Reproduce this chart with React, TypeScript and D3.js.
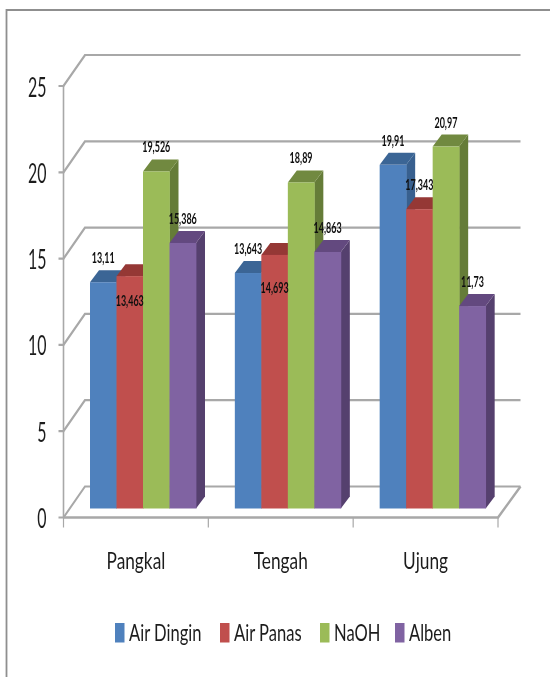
import React from "react";
import * as d3 from "d3";

const categories = ["Pangkal", "Tengah", "Ujung"];
const seriesNames = ["Air Dingin", "Air Panas", "NaOH", "Alben"];
const airDingin = [13.11, 13.643, 19.91];
const airPanas = [13.463, 14.693, 17.343];
const naoh = [19.526, 18.89, 20.97];
const alben = [15.386, 14.863, 11.73];
const yTicks = [0, 5, 10, 15, 20, 25];

const allSeries = [airDingin, airPanas, naoh, alben];
const frontColors = ["#4f81bd", "#c0504d", "#9bbb59", "#8064a2"];
const topColors = ["#3b6595", "#953735", "#71893f", "#63497f"];
const sideColors = ["#37608f", "#8a3331", "#657c37", "#553f6e"];

const WIDTH = 550;
const HEIGHT = 677;
const GRID = "#a8a8a8";
const FONT = "Lato, Carlito, 'Open Sans', sans-serif";
// 3D projection
const wallDx = 21.5;
const wallDy = 31;
const barDx = 9;
const barDy = 12;

const y = d3.scaleLinear().domain([0, 25]).range([517.5, 86]);
const x0 = d3.scaleBand<string>().domain(categories).range([63.5, 498]);
const x1 = d3
  .scaleBand<number>()
  .domain([0, 1, 2, 3])
  .range([26.5, 26.5 + 106]);
const barBase = 508.5;
const barH = (v: number) => y(0) - y(v);

// Excel labels moved by hand: the two lower red labels sit inside their bars
const labelOffset = (s: number, c: number) =>
  s === 1 && c === 0 ? 30 : s === 1 && c === 1 ? 38 : -19;

const legendX = d3.scaleOrdinal<number, number>().domain([0, 1, 2, 3]).range([115, 220, 320, 395]);

function SText({ x, y: ty, size, sx, anchor = "middle", weight = 400, fill = "#1c1c1c", children }: any) {
  return (
    <text
      transform={`translate(${x},${ty}) scale(${sx},1)`}
      fontSize={size}
      fontFamily={FONT}
      fontWeight={weight}
      textAnchor={anchor}
      fill={fill}
    >
      {children}
    </text>
  );
}

export default function App() {
  const xL = x0.range()[0];
  const xR = x0.range()[1];
  return (
    <svg
      width={WIDTH}
      height={HEIGHT}
      viewBox={`0 0 ${WIDTH} ${HEIGHT}`}
      style={{ position: "absolute", left: 0, top: 0, display: "block", background: "#fff" }}
    >
      <defs>
        <filter id="soft" x="-2%" y="-2%" width="104%" height="104%">
          <feGaussianBlur stdDeviation="0.55" />
        </filter>
      </defs>
      <g filter="url(#soft)">
        <path d={`M6.5,677V10H${WIDTH}`} fill="none" stroke="#8f8f8f" strokeWidth={1.8} />

        {/* walls */}
        <path d={`M${xL},${y(0)}V${y(25)}`} stroke={GRID} strokeWidth={1.6} fill="none" />
        {yTicks.map((t) => (
          <g key={t}>
            <path
              d={`M${xL - 5},${y(t)}H${xL}L${xL + wallDx},${y(t) - wallDy}H${xR + wallDx + 1}`}
              fill="none"
              stroke={GRID}
              strokeWidth={t === 0 ? 2 : 2.2}
            />
            <SText x={46.5} y={y(t) + 10.5} size={27.5} sx={0.58} anchor="end">
              {t}
            </SText>
          </g>
        ))}
        {/* floor */}
        <path
          d={`M${xL},${y(0)}H${xR}L${xR + wallDx + 1},${y(0) - wallDy}`}
          fill="none"
          stroke={GRID}
          strokeWidth={2.4}
        />
        {[...categories.map((c) => x0(c)!), xR].map((tx) => (
          <path key={tx} d={`M${tx},${y(0)}V${y(0) + 10}`} stroke={GRID} strokeWidth={1.2} fill="none" />
        ))}

        {/* bars */}
        {categories.map((c, ci) => (
          <g key={c}>
            {allSeries.map((vals, si) => {
              const bx = x0(c)! + x1(si)!;
              const w = x1.bandwidth();
              const top = barBase - barH(vals[ci]);
              return (
                <g key={si}>
                  <polygon
                    points={`${bx + w},${top} ${bx + w + barDx},${top - barDy} ${bx + w + barDx},${barBase - barDy} ${bx + w},${barBase}`}
                    fill={sideColors[si]}
                  />
                  <polygon
                    points={`${bx},${top} ${bx + barDx},${top - barDy} ${bx + w + barDx},${top - barDy} ${bx + w},${top}`}
                    fill={topColors[si]}
                  />
                  <rect x={bx} y={top} width={w + 0.4} height={barBase - top} fill={frontColors[si]} />
                </g>
              );
            })}
          </g>
        ))}

        {/* data labels */}
        {categories.map((c, ci) =>
          allSeries.map((vals, si) => {
            const bx = x0(c)! + x1(si)! + x1.bandwidth() / 2;
            const top = barBase - barH(vals[ci]);
            return (
              <SText key={c + si} x={bx} y={top + labelOffset(si, ci)} size={14.5} sx={0.62} weight={700} fill="#111">
                {String(vals[ci]).replace(".", ",")}
              </SText>
            );
          })
        )}

        {/* category labels */}
        {categories.map((c) => (
          <SText key={c} x={x0(c)! + x0.bandwidth() / 2} y={569} size={24} sx={0.72}>
            {c}
          </SText>
        ))}

        {/* legend */}
        {seriesNames.map((n, i) => (
          <g key={n}>
            <rect x={legendX(i)} y={623} width={9.5} height={19.5} fill={frontColors[i]} />
            <SText x={legendX(i) + 14} y={641} size={24} sx={0.69} anchor="start">
              {n}
            </SText>
          </g>
        ))}
      </g>
    </svg>
  );
}
